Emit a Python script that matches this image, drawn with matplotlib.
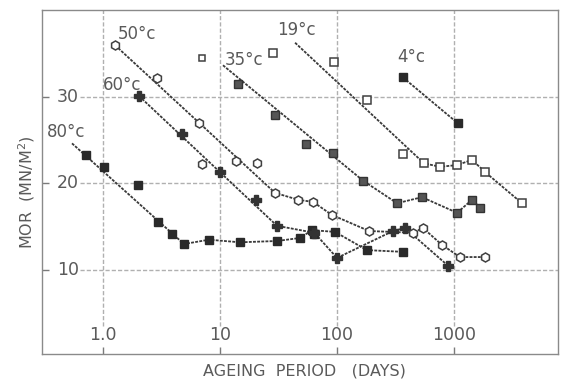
import matplotlib
matplotlib.use("Agg")
import matplotlib.pyplot as plt

# ---------------- data (ageing period in days, MOR in MN/m^2) ----------------
t80_days = [0.72, 1.02, 1.99, 2.95, 3.89, 4.92, 8.05, 14.8, 30.7, 48.3, 61.1, 63.5, 96.1, 180, 366]
t80_mor = [23.3, 21.9, 19.8, 15.5, 14.2, 13.0, 13.5, 13.2, 13.35, 13.7, 14.6, 14.2, 14.4, 12.3, 12.1]
t80_line_days = [0.543, 4.92, 8.05, 14.8, 30.7, 48.3, 61.1, 96.1, 180, 366]
t80_line_mor = [24.6, 13.0, 13.5, 13.2, 13.35, 13.7, 14.6, 14.4, 12.3, 12.1]

t60_days = [2.03, 4.73, 10.0, 20.3, 30.7, 64.0, 100, 301, 381, 889]
t60_mor = [30.06, 25.7, 21.3, 18.1, 15.1, 14.3, 11.4, 14.5, 14.85, 10.5]
t60_line_days = [2.03, 30.7, 64.0, 100, 301, 381, 889]
t60_line_mor = [30.06, 15.1, 14.3, 11.4, 14.5, 14.85, 10.5]

t50_days = [1.27, 2.89, 6.61, 7.02, 13.7, 20.7, 29.5, 46.5, 62.4, 90.6, 188, 446, 543, 789, 1125, 1841]
t50_mor = [35.9, 32.1, 26.9, 22.2, 22.6, 22.3, 18.9, 18.1, 17.85, 16.35, 14.5, 14.3, 14.85, 12.9, 11.5, 11.5]
t50_line_days = [1.27, 29.5, 46.5, 62.4, 90.6, 188, 446, 543, 789, 1125, 1841]
t50_line_mor = [35.9, 18.9, 18.1, 17.85, 16.35, 14.5, 14.3, 14.85, 12.9, 11.5, 11.5]

t35_first_days = [7.02]
t35_first_mor = [34.4]
t35_days = [14.3, 29.5, 54.3, 92.4, 167, 326, 532, 1062, 1426, 1667]
t35_mor = [31.4, 27.9, 24.5, 23.5, 20.3, 17.7, 18.4, 16.6, 18.1, 17.2]
t35_line_days = [10.6, 167, 326, 532, 1062, 1426, 1667]
t35_line_mor = [33.6, 20.3, 17.7, 18.4, 16.6, 18.1, 17.2]

t19_days = [28.4, 94.2, 180, 366, 554, 759, 1062, 1426, 1841, 3811]
t19_mor = [35.0, 34.0, 29.6, 23.4, 22.3, 21.9, 22.1, 22.7, 21.3, 17.7]
t19_line_days = [43.8, 554, 759, 1062, 1426, 1841, 3811]
t19_line_mor = [36.2, 22.3, 21.9, 22.1, 22.7, 21.3, 17.7]

t4_days = [366, 1081]
t4_mor = [32.2, 26.9]

series_labels = ["80°c", "60°c", "50°c", "35°c", "19°c", "4°c"]
label_pos = [(0.33, 25.9), (1.0, 31.3), (1.34, 37.2), (11.0, 34.2), (30.7, 37.7), (326, 34.6)]

x_ticks = [1, 10, 100, 1000]
x_tick_labels = ["1.0", "10", "100", "1000"]
y_ticks = [10, 20, 30]
y_tick_labels = ["10", "20", "30"]

# ---------------- figure ----------------
fig = plt.figure(figsize=(5.61, 3.81), dpi=100)
ax = fig.add_axes([0.0749, 0.0709, 0.9198, 0.9029])
ax.set_xscale("log")
ax.set_xlim(0.301, 7745)
ax.set_ylim(0.33, 39.97)

ink = "#3a3a3a"
grid_c = "#b0b0b0"
txt_c = "#5a5a5a"

for s in ax.spines.values():
    s.set_color("#8a8a8a")
    s.set_linewidth(1.0)

# grid lines (inside plot, leaving room for the inner labels)
for xv in x_ticks:
    ax.plot([xv, xv], [3.6, 39.97], color=grid_c, lw=1.0, ls=(0, (3, 1.5)), zorder=1)
for yv in y_ticks:
    ax.plot([0.64, 7745], [yv, yv], color=grid_c, lw=1.0, ls=(0, (3, 1.5)), zorder=1)

ax.set_xticks(x_ticks)
ax.set_xticklabels([])
ax.set_yticks(y_ticks)
ax.set_yticklabels([])
ax.minorticks_off()
ax.tick_params(direction="in", length=5, width=1.0, color="#7a7a7a")

for xv, lab in zip(x_ticks, x_tick_labels):
    ax.text(xv, 2.55, lab, ha="center", va="center", fontsize=12.5, color=txt_c)
for yv, lab in zip(y_ticks, y_tick_labels):
    ax.text(0.50, yv, lab, ha="center", va="center", fontsize=12.5, color=txt_c)

line_kw = dict(color=ink, lw=1.3, ls=(0, (1.6, 0.7)), zorder=2)

ax.plot(t80_line_days, t80_line_mor, **line_kw)
ax.plot(t60_line_days, t60_line_mor, **line_kw)
ax.plot(t50_line_days, t50_line_mor, **line_kw)
ax.plot(t35_line_days, t35_line_mor, **line_kw)
ax.plot(t19_line_days, t19_line_mor, **line_kw)
ax.plot(t4_days, t4_mor, **line_kw)

ax.plot(t80_days, t80_mor, ls="none", marker="s", ms=5.5, mfc="#2a2a2a", mec="#2a2a2a", zorder=3)
ax.plot(t60_days, t60_mor, ls="none", marker="P", ms=6.5, mfc="#333333", mec="#333333", zorder=3)
ax.plot(t50_days, t50_mor, ls="none", marker="h", ms=6.5, mfc="white", mec="#404040", mew=1.1, zorder=3)
ax.plot(t35_first_days, t35_first_mor, ls="none", marker="s", ms=5, mfc="white", mec="#404040", mew=1.1, zorder=3)
ax.plot(t35_days, t35_mor, ls="none", marker="s", ms=5.5, mfc="#555555", mec="#333333", mew=1.0, zorder=3)
ax.plot(t19_days, t19_mor, ls="none", marker="s", ms=6, mfc="white", mec="#404040", mew=1.1, zorder=3)
ax.plot(t4_days, t4_mor, ls="none", marker="s", ms=5.5, mfc="#2a2a2a", mec="#2a2a2a", zorder=3)

for lab, (lx, ly) in zip(series_labels, label_pos):
    ax.text(lx, ly, lab, ha="left", va="center", fontsize=12, color=txt_c)

fig.text(0.543, 0.027, "AGEING  PERIOD   (DAYS)", ha="center", va="center",
         fontsize=11.5, color=txt_c)
fig.text(0.048, 0.496, "MOR  (MN/M$^2$)", ha="center", va="center", rotation=90,
         fontsize=11.5, color=txt_c)

fig.savefig("out.png", dpi=100)
